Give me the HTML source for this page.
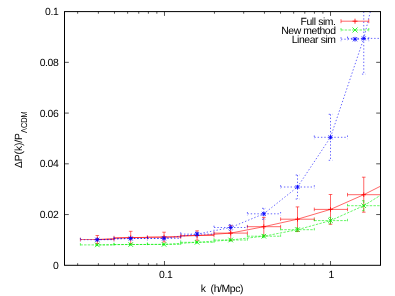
<!DOCTYPE html>
<html><head><meta charset="utf-8"><style>
html,body{margin:0;padding:0;background:#fff}
svg{display:block;will-change:transform}
text{font-family:"Liberation Sans",sans-serif;font-size:10.4px;fill:#000;text-rendering:geometricPrecision;letter-spacing:-.4px}
.r,.g,.b{fill:none;stroke-width:.6;stroke-linecap:butt}
.r{stroke:#ff0000}
.g{stroke:#00f000;stroke-dasharray:2.45 1.255}
.g .pl{stroke-dashoffset:2.1}
.b{stroke:#0000ff;stroke-dasharray:1.4 1.935}
.b .pl{stroke-dashoffset:.22}
.mk{stroke-dasharray:none;stroke-width:.8}
.ax{fill:none;stroke:#000;stroke-width:1}
</style></head><body>
<svg width="395" height="296" viewBox="0 0 395 296">
<rect width="395" height="296" fill="#fff"/>
<g filter="url(#bl)">
<defs><filter id="bl" x="0" y="0" width="395" height="296" filterUnits="userSpaceOnUse"><feGaussianBlur stdDeviation="0.3"/></filter><clipPath id="c"><rect x="64.5" y="11.6" width="316" height="253.7"/></clipPath></defs>
<g clip-path="url(#c)">
<g class="r"><polyline class="pl" points="97.3,239.5 130.7,237.6 164.05,237.1 197.1,235.5 230.7,233.1 263.8,226.7 297.5,219.2 330.5,209.4 363.75,194.7 380.5,186.2"/><path d="M97.3 235.5V243.5M95.5 235.5H99.1M95.5 243.5H99.1M80.4 239.5H114M80.4 237.7V241.3M114 237.7V241.3M130.7 231.3V243.9M128.9 231.3H132.5M128.9 243.9H132.5M114 237.6H147.4M114 235.8V239.4M147.4 235.8V239.4M164.05 232.2V242M162.25 232.2H165.85M162.25 242H165.85M147.4 237.1H180.7M147.4 235.3V238.9M180.7 235.3V238.9M197.1 230.8V240.2M195.3 230.8H198.9M195.3 240.2H198.9M180.7 235.5H214M180.7 233.7V237.3M214 233.7V237.3M230.7 225.6V240.6M228.9 225.6H232.5M228.9 240.6H232.5M214 233.1H247.4M214 231.3V234.9M247.4 231.3V234.9M263.8 217.4V236M262 217.4H265.6M262 236H265.6M247.4 226.7H280.6M247.4 224.9V228.5M280.6 224.9V228.5M297.5 206.9V231.5M295.7 206.9H299.3M295.7 231.5H299.3M280.6 219.2H314.3M280.6 217.4V221M314.3 217.4V221M330.5 194.5V224.3M328.7 194.5H332.3M328.7 224.3H332.3M314.3 209.4H347.5M314.3 207.6V211.2M347.5 207.6V211.2M363.75 177.2V212.2M361.95 177.2H365.55M361.95 212.2H365.55M347.5 194.7H380.5M347.5 192.9V196.5"/><path class="mk" d="M95 239.5H99.6M97.3 237.2V241.8M128.4 237.6H133M130.7 235.3V239.9M161.75 237.1H166.35M164.05 234.8V239.4M194.8 235.5H199.4M197.1 233.2V237.8M228.4 233.1H233M230.7 230.8V235.4M261.5 226.7H266.1M263.8 224.4V229M295.2 219.2H299.8M297.5 216.9V221.5M328.2 209.4H332.8M330.5 207.1V211.7M361.45 194.7H366.05M363.75 192.4V197"/></g>
<g class="g"><polyline class="pl" points="97.3,244.9 130.7,244.5 164.05,244.4 197.1,242.3 230.7,240 263.8,236.2 297.5,229.7 330.5,220.6 363.75,205.7 380.5,195.3"/><path d="M97.3 244.3V245.5M95.5 244.3H99.1M95.5 245.5H99.1M80.4 244.9H114M80.4 243.1V246.7M114 243.1V246.7M130.7 243.9V245.1M128.9 243.9H132.5M128.9 245.1H132.5M114 244.5H147.4M114 242.7V246.3M147.4 242.7V246.3M164.05 243.8V245M162.25 243.8H165.85M162.25 245H165.85M147.4 244.4H180.7M147.4 242.6V246.2M180.7 242.6V246.2M197.1 241.5V243.1M195.3 241.5H198.9M195.3 243.1H198.9M180.7 242.3H214M180.7 240.5V244.1M214 240.5V244.1M230.7 239V241M228.9 239H232.5M228.9 241H232.5M214 240H247.4M214 238.2V241.8M247.4 238.2V241.8M263.8 234.8V237.6M262 234.8H265.6M262 237.6H265.6M247.4 236.2H280.6M247.4 234.4V238M280.6 234.4V238M297.5 227.8V231.6M295.7 227.8H299.3M295.7 231.6H299.3M280.6 229.7H314.3M280.6 227.9V231.5M314.3 227.9V231.5M330.5 217.4V223.8M328.7 217.4H332.3M328.7 223.8H332.3M314.3 220.6H347.5M314.3 218.8V222.4M347.5 218.8V222.4M363.75 200.7V210.7M361.95 200.7H365.55M361.95 210.7H365.55M347.5 205.7H380.5M347.5 203.9V207.5"/><path class="mk" d="M95 242.6L99.6 247.2M95 247.2L99.6 242.6M128.4 242.2L133 246.8M128.4 246.8L133 242.2M161.75 242.1L166.35 246.7M161.75 246.7L166.35 242.1M194.8 240L199.4 244.6M194.8 244.6L199.4 240M228.4 237.7L233 242.3M228.4 242.3L233 237.7M261.5 233.9L266.1 238.5M261.5 238.5L266.1 233.9M295.2 227.4L299.8 232M295.2 232L299.8 227.4M328.2 218.3L332.8 222.9M328.2 222.9L332.8 218.3M361.45 203.4L366.05 208M361.45 208L366.05 203.4"/></g>
<g class="b"><polyline class="pl" points="97.3,239.7 130.7,238.5 164.05,238.4 197.1,234.1 230.7,227.5 263.8,213.8 297.5,187 330.5,137.3 363.75,38.4 370.4,11.5"/><path d="M97.3 238.7V240.7M95.5 238.7H99.1M95.5 240.7H99.1M80.4 239.7H114M80.4 237.9V241.5M114 237.9V241.5M130.7 237.3V239.7M128.9 237.3H132.5M128.9 239.7H132.5M114 238.5H147.4M114 236.7V240.3M147.4 236.7V240.3M164.05 236.9V239.9M162.25 236.9H165.85M162.25 239.9H165.85M147.4 238.4H180.7M147.4 236.6V240.2M180.7 236.6V240.2M197.1 232.1V236.1M195.3 232.1H198.9M195.3 236.1H198.9M180.7 234.1H214M180.7 232.3V235.9M214 232.3V235.9M230.7 224.5V230.5M228.9 224.5H232.5M228.9 230.5H232.5M214 227.5H247.4M214 225.7V229.3M247.4 225.7V229.3M263.8 208.3V219.3M262 208.3H265.6M262 219.3H265.6M247.4 213.8H280.6M247.4 212V215.6M280.6 212V215.6M297.5 175V199M295.7 175H299.3M295.7 199H299.3M280.6 187H314.3M280.6 185.2V188.8M314.3 185.2V188.8M330.5 114.3V160.3M328.7 114.3H332.3M328.7 160.3H332.3M314.3 137.3H347.5M314.3 135.5V139.1M347.5 135.5V139.1M363.75 11.6V74.1M361.95 74.1H365.55M347.5 38.4H380.5M347.5 36.6V40.2"/><path class="mk" d="M95.11 239.7H99.48M97.3 237.51V241.88M95.34 237.74L99.25 241.66M95.34 241.66L99.25 237.74M128.51 238.5H132.88M130.7 236.31V240.69M128.74 236.54L132.66 240.46M128.74 240.46L132.66 236.54M161.87 238.4H166.24M164.05 236.22V240.59M162.09 236.44L166.01 240.36M162.09 240.36L166.01 236.44M194.91 234.1H199.28M197.1 231.91V236.28M195.14 232.14L199.06 236.06M195.14 236.06L199.06 232.14M228.51 227.5H232.88M230.7 225.31V229.69M228.74 225.54L232.66 229.46M228.74 229.46L232.66 225.54M261.62 213.8H265.99M263.8 211.62V215.99M261.85 211.84L265.75 215.76M261.85 215.76L265.75 211.84M295.31 187H299.69M297.5 184.81V189.19M295.55 185.04L299.45 188.96M295.55 188.96L299.45 185.04M328.31 137.3H332.69M330.5 135.12V139.49M328.55 135.34L332.45 139.26M328.55 139.26L332.45 135.34M361.56 38.4H365.94M363.75 36.21V40.59M361.8 36.45L365.7 40.35M361.8 40.35L365.7 36.45"/></g>
</g>
<g class="r"><path d="M341 21.2H368.8M341 19.2V23.2M368.8 19.2V23.2"/><path class="mk" d="M352.5 21.2H357.5M355 18.7V23.7"/></g><g class="g"><path d="M341 30H368.8M341 28V32M368.8 28V32"/><path class="mk" d="M352.5 27.5L357.5 32.5M352.5 32.5L357.5 27.5"/></g><g class="b"><path d="M341 39.2H368.8M341 37.2V41.2M368.8 37.2V41.2"/><path class="mk" d="M352.62 39.2H357.38M355 36.83V41.58M352.88 37.08L357.12 41.33M352.88 41.33L357.12 37.08"/></g>
<path class="ax" style="stroke-width:.68" d="M64.5 214.56h4.3M380.5 214.56h-4.3M64.5 163.82h4.3M380.5 163.82h-4.3M64.5 113.08h4.3M380.5 113.08h-4.3M64.5 62.34h4.3M380.5 62.34h-4.3M77.65 265.3v-2.1M77.65 11.6v2.1M98.39 265.3v-2.1M98.39 11.6v2.1M114.48 265.3v-2.1M114.48 11.6v2.1M127.63 265.3v-2.1M127.63 11.6v2.1M138.75 265.3v-2.1M138.75 11.6v2.1M148.38 265.3v-2.1M148.38 11.6v2.1M156.87 265.3v-2.1M156.87 11.6v2.1M164.47 265.3v-4.3M164.47 11.6v4.3M214.45 265.3v-2.1M214.45 11.6v2.1M243.69 265.3v-2.1M243.69 11.6v2.1M264.44 265.3v-2.1M264.44 11.6v2.1M280.53 265.3v-2.1M280.53 11.6v2.1M293.68 265.3v-2.1M293.68 11.6v2.1M304.79 265.3v-2.1M304.79 11.6v2.1M314.42 265.3v-2.1M314.42 11.6v2.1M322.92 265.3v-2.1M322.92 11.6v2.1M330.52 265.3v-4.3M330.52 11.6v4.3"/>
<rect class="ax" x="64.5" y="11.6" width="316" height="253.7"/>
<text x="58.3" y="268.9" text-anchor="end">0</text><text x="58.3" y="218.16" text-anchor="end">0.02</text><text x="58.3" y="167.42" text-anchor="end">0.04</text><text x="58.3" y="116.68" text-anchor="end">0.06</text><text x="58.3" y="65.94" text-anchor="end">0.08</text><text x="58.3" y="15.2" text-anchor="end">0.1</text><text x="165.67" y="278.3" text-anchor="middle">0.1</text><text x="331.32" y="278.3" text-anchor="middle">1</text><text x="221.9" y="292.3" text-anchor="middle" xml:space="preserve">k  (h/Mpc)</text><text transform="translate(22,168) rotate(-90)" style="letter-spacing:-.15px">ΔP(k)/P</text><text transform="translate(26.5,133) rotate(-90)" style="font-size:8.6px;letter-spacing:0" textLength="21.6" lengthAdjust="spacingAndGlyphs">ΛCDM</text>
<text x="335.6" y="24.8" text-anchor="end">Full sim.</text><text x="335.6" y="33.6" text-anchor="end">New method</text><text x="335.6" y="42.8" text-anchor="end">Linear sim</text>
</g>
</svg>
</body></html>
